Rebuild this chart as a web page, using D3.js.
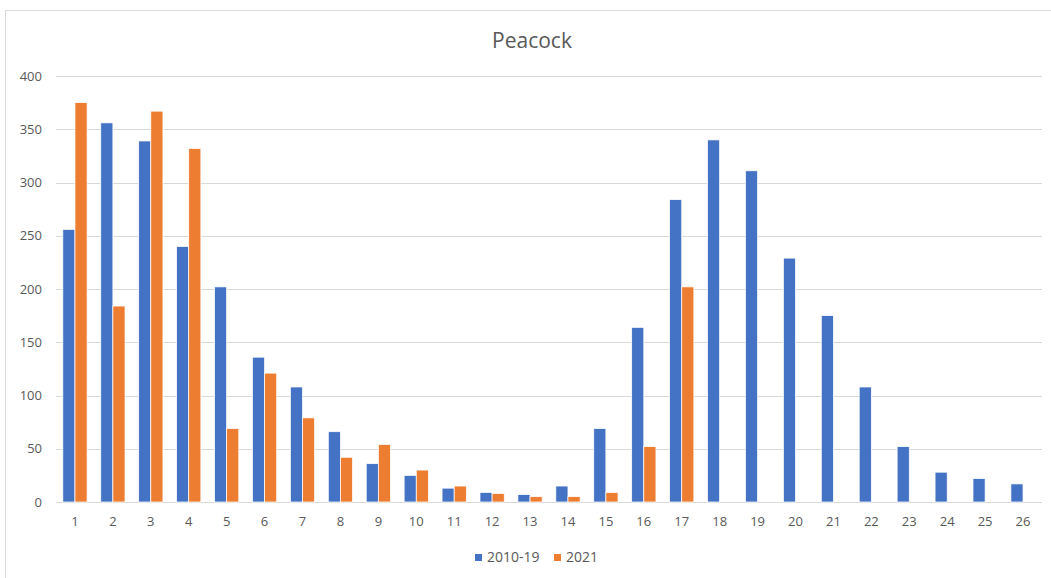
<!DOCTYPE html>
<html>
<head>
<meta charset="utf-8">
<script src="https://cdn.jsdelivr.net/npm/d3@7"></script>
<style>
  body { margin: 0; background: #fff; }
  text { font-family: "Open Sans", "Noto Sans", sans-serif; fill: #595959; }
</style>
</head>
<body>
<div id="chart"></div>
<script>
// week numbers along the x axis
var weeks = ['1','2','3','4','5','6','7','8','9','10','11','12','13','14','15','16','17','18','19','20','21','22','23','24','25','26'];

// 2010-19 average counts
var avg2010 = [256, 356, 339, 240, 202, 136, 108, 66, 36, 25, 13, 9, 7, 15, 69, 164, 284, 340, 311, 229, 175, 108, 52, 28, 22, 17];

// 2021 counts (no data after week 17)
var year2021 = [375, 184, 367, 332, 69, 121, 79, 42, 54, 30, 15, 8, 5, 5, 9, 52, 202, null, null, null, null, null, null, null, null, null];

var seriesNames = ['2010-19', '2021'];
var colors = ['#4472c4', '#ed7d31'];
var yTicks = [0, 50, 100, 150, 200, 250, 300, 350, 400];

var width = 1051, height = 578;
var margin = {top: 76, right: 9, bottom: 76, left: 56};
var w = width - margin.left - margin.right;
var h = height - margin.top - margin.bottom;

var svg = d3.select('#chart').append('svg')
    .attr('width', width)
    .attr('height', height);

// chart frame
svg.append('rect')
    .attr('x', 5.5).attr('y', 10.5)
    .attr('width', width + 20).attr('height', height + 20)
    .attr('fill', 'none')
    .attr('stroke', '#d9d9d9');

svg.append('text')
    .attr('x', 532).attr('y', 48)
    .attr('text-anchor', 'middle')
    .style('font-size', '21px')
    .text('Peacock');

var g = svg.append('g').attr('transform', 'translate(' + margin.left + ',' + margin.top + ')');

var x = d3.scaleBand().domain(weeks).range([0, w]).paddingInner(0.36).paddingOuter(0.18);
var x1 = d3.scaleBand().domain(seriesNames).range([0, x.bandwidth()]);
var y = d3.scaleLinear().domain([0, 400]).range([h, 0]);

// gridlines
g.append('g')
    .selectAll('line')
    .data(yTicks)
    .enter().append('line')
    .attr('x1', 0).attr('x2', w)
    .attr('y1', function(d) { return Math.round(y(d)) + 0.5; })
    .attr('y2', function(d) { return Math.round(y(d)) + 0.5; })
    .attr('stroke', '#d9d9d9');

var yAxis = d3.axisLeft(y).tickValues(yTicks).tickSize(0).tickPadding(14);
g.append('g').call(yAxis)
    .call(function(a) { a.select('.domain').remove(); })
    .selectAll('text').style('font-size', '13px').attr('fill', '#595959');

var xAxis = d3.axisBottom(x).tickSize(0).tickPadding(15);
g.append('g').attr('transform', 'translate(0,' + h + ')').call(xAxis)
    .call(function(a) { a.select('.domain').remove(); })
    .selectAll('text').style('font-size', '13px').attr('fill', '#595959');

var rows = weeks.map(function(wk, i) {
    return {week: wk, values: [avg2010[i], year2021[i]]};
});

var groups = g.selectAll('.week')
    .data(rows)
    .enter().append('g')
    .attr('transform', function(d) { return 'translate(' + x(d.week) + ',0)'; });

groups.selectAll('rect')
    .data(function(d) {
        return d.values.map(function(v, k) { return {name: seriesNames[k], value: v, k: k}; })
            .filter(function(e) { return e.value != null; });
    })
    .enter().append('rect')
    .attr('x', function(d) { return x1(d.name); })
    .attr('y', function(d) { return y(d.value); })
    .attr('width', x1.bandwidth())
    .attr('height', function(d) { return h - y(d.value); })
    .attr('fill', function(d) { return colors[d.k]; })
    .attr('stroke', '#fff')
    .attr('stroke-width', 0.75);

// legend
var legend = svg.append('g').attr('transform', 'translate(475,558)');
var items = [{name: seriesNames[0], x: 0}, {name: seriesNames[1], x: 79}];
items.forEach(function(it, k) {
    legend.append('rect')
        .attr('x', it.x).attr('y', -4)
        .attr('width', 7).attr('height', 7)
        .attr('fill', colors[k]);
    legend.append('text')
        .attr('x', it.x + 12).attr('y', 0)
        .attr('dominant-baseline', 'middle')
        .style('font-size', '14px')
        .text(it.name);
});
</script>
</body>
</html>
